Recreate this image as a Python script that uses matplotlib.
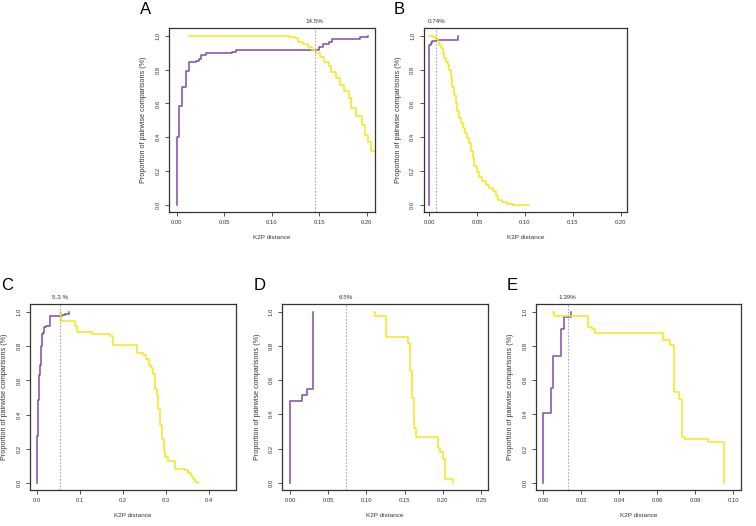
import numpy as np
import matplotlib
matplotlib.use("Agg")
import matplotlib.pyplot as plt
import matplotlib.transforms as mtransforms

plt.rcParams['font.family'] = ['Liberation Sans', 'DejaVu Sans']

# --- data (intra = purple, inter = yellow) ---
a_intra_x = [0, 0, 0.003, 0.006, 0.0095, 0.013, 0.020, 0.024, 0.026, 0.0305, 0.058, 0.062,
             0.128, 0.150, 0.154, 0.160, 0.164, 0.193, 0.2017]
a_intra_y = [0, 0.40, 0.586, 0.70, 0.79, 0.847, 0.853, 0.865, 0.888, 0.90, 0.906, 0.914,
             0.918, 0.935, 0.95, 0.965, 0.98, 0.99, 1.0]
a_inter_x = [0.013, 0.100, 0.110, 0.118, 0.1245, 0.128, 0.133, 0.138, 0.143, 0.147, 0.151,
             0.155, 0.160, 0.163, 0.168, 0.172, 0.176, 0.181, 0.184, 0.189, 0.195, 0.198,
             0.2017, 0.205, 0.210]
a_inter_y = [1.0, 0.998, 0.995, 0.99, 0.985, 0.965, 0.95, 0.935, 0.916, 0.896, 0.873,
             0.847, 0.818, 0.788, 0.75, 0.71, 0.676, 0.632, 0.573, 0.524, 0.475, 0.416,
             0.37, 0.32, 0.29]

b_intra_x = [0, 0, 0.0015, 0.003, 0.0077, 0.0303]
b_intra_y = [0, 0.945, 0.955, 0.97, 0.976, 1.0]
b_inter_x = [0, 0.0043, 0.0071, 0.0089, 0.0106, 0.012, 0.0141, 0.0158, 0.0176, 0.0193, 0.021,
             0.0228, 0.0242, 0.0259, 0.0277, 0.0294, 0.0315, 0.0332, 0.035, 0.0374, 0.0398,
             0.0419, 0.0437, 0.0454, 0.0471, 0.0496, 0.0524, 0.0555, 0.059, 0.0628, 0.0663,
             0.0698, 0.0722, 0.0757, 0.0809, 0.0879, 0.1046]
b_inter_y = [1.0, 0.99, 0.98, 0.96, 0.945, 0.925, 0.896, 0.867, 0.847, 0.827, 0.798,
             0.759, 0.70, 0.651, 0.602, 0.553, 0.514, 0.484, 0.455, 0.425, 0.396,
             0.367, 0.318, 0.278, 0.229, 0.194, 0.167, 0.141, 0.122, 0.102, 0.082,
             0.057, 0.033, 0.020, 0.010, 0.0, 0.0]

c_intra_x = [0, 0, 0.0022, 0.0045, 0.0068, 0.0084, 0.0099, 0.0138, 0.016, 0.0191, 0.0291,
             0.0577, 0.0654, 0.0732]
c_intra_y = [0, 0.277, 0.486, 0.63, 0.69, 0.80, 0.87, 0.88, 0.91, 0.92, 0.975,
             0.985, 0.99, 1.0]
c_inter_x = [0.052, 0.0545, 0.0887, 0.0926, 0.127, 0.170, 0.177, 0.231, 0.247, 0.253, 0.259,
             0.264, 0.269, 0.2745, 0.278, 0.282, 0.286, 0.290, 0.294, 0.298, 0.305, 0.321,
             0.344, 0.352, 0.357, 0.363, 0.368, 0.375]
c_inter_y = [1.0, 0.945, 0.92, 0.882, 0.87, 0.858, 0.81, 0.758, 0.748, 0.728, 0.69,
             0.67, 0.64, 0.552, 0.513, 0.435, 0.337, 0.258, 0.19, 0.15, 0.127, 0.085,
             0.077, 0.062, 0.042, 0.023, 0.007, 0.0]

d_intra_x = [0, 0, 0.0153, 0.0227, 0.0305]
d_intra_y = [0, 0.48, 0.514, 0.55, 1.0]
d_inter_x = [0.1098, 0.111, 0.125, 0.1545, 0.157, 0.160, 0.162, 0.165, 0.194, 0.196, 0.200,
             0.203, 0.2126]
d_inter_y = [1.0, 0.978, 0.855, 0.816, 0.655, 0.498, 0.322, 0.267, 0.202, 0.18, 0.14,
             0.024, 0.0]

e_intra_x = [0, 0, 0.0039, 0.0053, 0.0091, 0.0107, 0.0144]
e_intra_y = [0, 0.41, 0.557, 0.745, 0.898, 0.971, 1.0]
e_inter_x = [0.0053, 0.0056, 0.0234, 0.0255, 0.0272, 0.0632, 0.0668, 0.0688, 0.0712, 0.0729,
             0.0747, 0.0868, 0.0951]
e_inter_y = [1.0, 0.976, 0.91, 0.902, 0.877, 0.837, 0.806, 0.534, 0.493, 0.27,
             0.255, 0.238, 0.0]

thresholds = [0.1453, 0.0073, 0.052, 0.0728, 0.0128]
thr_labels = ["14.5%", "0.74%", "5.3 %", "6.5%", "1.39%"]
panel_letters = ["A", "B", "C", "D", "E"]
xticks = [[0, 0.05, 0.10, 0.15, 0.20],
          [0, 0.05, 0.10, 0.15, 0.20],
          [0, 0.1, 0.2, 0.3, 0.4],
          [0, 0.05, 0.10, 0.15, 0.20, 0.25],
          [0, 0.02, 0.04, 0.06, 0.08, 0.10]]
xtick_fmt = ["%.2f", "%.2f", "%.1f", "%.2f", "%.2f"]
xlims = [(-0.008, 0.2085), (-0.006, 0.207), (-0.017, 0.462), (-0.010, 0.259), (-0.0038, 0.104)]

series = [(a_intra_x, a_intra_y, a_inter_x, a_inter_y),
          (b_intra_x, b_intra_y, b_inter_x, b_inter_y),
          (c_intra_x, c_intra_y, c_inter_x, c_inter_y),
          (d_intra_x, d_intra_y, d_inter_x, d_inter_y),
          (e_intra_x, e_intra_y, e_inter_x, e_inter_y)]

W, H = 756, 526
# axes boxes in pixels: left, right, top, bottom
boxes = [(169, 374.7, 28, 212), (423.5, 627.3, 28, 212),
         (30, 235.7, 304.3, 490), (282.3, 488, 304.3, 489.5), (536, 741, 304.3, 489.5)]
letter_pos = [(146, 9), (399, 9), (7.5, 286), (260, 286), (512, 286)]

purple = "#7B4EA3"
yellow = "#F5E61A"

fig = plt.figure(figsize=(W / 100, H / 100), dpi=100)

for i in range(5):
    l, r, t, b = boxes[i]
    ax = fig.add_axes([l / W, (H - b) / H, (r - l) / W, (b - t) / H])
    ix, iy, ox, oy = series[i]
    ax.plot(ix, iy, drawstyle="steps-post", color=purple, lw=1.1)
    ax.plot(ox, oy, drawstyle="steps-post", color=yellow, lw=1.1)
    ax.axvline(thresholds[i], color="#a8a8a8", lw=0.8, ls=(0, (1.5, 1.5)))
    trans = mtransforms.blended_transform_factory(ax.transData, ax.transAxes)
    ax.text(thresholds[i], 1.035, thr_labels[i], transform=trans, ha="center",
            va="center", fontsize=4.5, color="#333333")

    ax.set_xlim(*xlims[i])
    ax.set_ylim(-0.04, 1.045)
    ax.set_xticks(xticks[i])
    ax.set_xticklabels([xtick_fmt[i] % v for v in xticks[i]])
    ax.set_yticks([0, 0.2, 0.4, 0.6, 0.8, 1.0])
    ax.set_yticklabels(["0.0", "0.2", "0.4", "0.6", "0.8", "1.0"], rotation=90, va="center")
    ax.tick_params(direction="out", length=3, width=0.6, labelsize=4.2, pad=3,
                   colors="#333333")
    for s in ax.spines.values():
        s.set_linewidth(0.9)
        s.set_color("#333333")
    ax.set_xlabel("K2P distance", fontsize=4.6, labelpad=7, color="#333333")
    ax.set_ylabel("Proportion of pairwise comparisons (%)", fontsize=5.2, labelpad=6,
                  color="#333333")

    lx, ly = letter_pos[i]
    fig.text(lx / W, 1 - ly / H, panel_letters[i], fontsize=12, ha="center", va="center")

fig.savefig("out.png", dpi=100)
